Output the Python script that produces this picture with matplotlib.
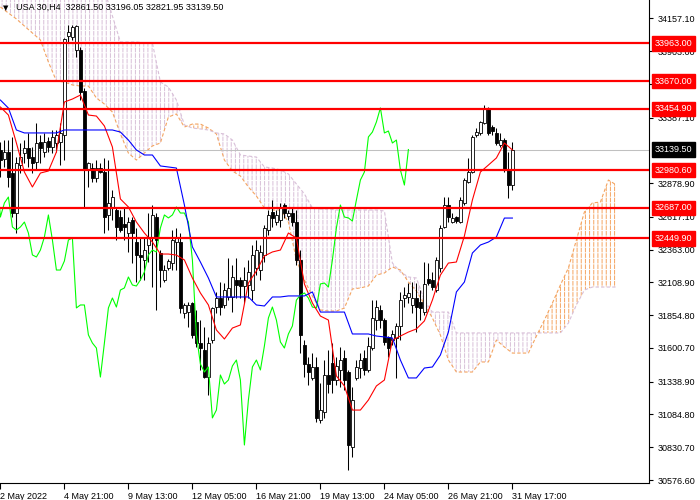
import numpy as np
import matplotlib.pyplot as plt
from matplotlib.transforms import blended_transform_factory

plt.rcParams['font.family'] = ['Liberation Sans', 'DejaVu Sans']
plt.rcParams['hatch.linewidth'] = 0.7

symbol = "USA 30,H4"
last_ohlc = [32861.50, 33196.05, 32821.95, 33139.50]

# H4 candles, one per bar
opens = [33136, 33066, 33120, 32957, 32647, 33019, 33113, 33151, 33081, 33043,
         33198, 33120, 33206, 33159, 33190, 33198, 33252, 34020, 34012, 33911,
         33911, 33593, 32981, 32996, 32918, 32996, 32965, 32632, 32694, 32670,
         32616, 32562, 32492, 32593, 32422, 32322, 32283, 32399, 32461, 32616,
         32337, 32128, 32221, 32259, 32422, 32422, 31872, 31880, 31950, 31802,
         31639, 31585, 31375, 31662, 31918, 31988, 31934, 31996, 31996, 32128,
         32128, 32081, 32089, 32050, 32221, 32205, 32322, 32515, 32655, 32577,
         32593, 32709, 32624, 32647, 32577, 32283, 31624, 31476, 31368, 31453,
         31042, 31104, 31391, 31484, 31352, 31430, 31523, 31414, 30832, 31368,
         31445, 31523, 31430, 31600, 31817, 31895, 31817, 31686, 31662, 31678,
         31771, 31988, 31996, 31934, 31988, 31957, 31880, 32135, 32128, 32050,
         32221, 32539, 32709, 32577, 32616, 32577, 32725, 32888, 32965, 33252,
         33268, 33345, 33462, 33314, 33268, 33175, 33213, 32981, 32861.5]
highs = [33198, 33213, 33213, 33237, 33081, 33190, 33213, 33268, 33159, 33345,
         33252, 33268, 33237, 33291, 33291, 33345, 34004, 34105, 34105, 34105,
         33934, 33617, 33043, 33035, 33058, 33035, 33074, 33058, 32826, 32694,
         32670, 32686, 32616, 32616, 32531, 32461, 32461, 32647, 32709, 32647,
         32360, 32244, 32290, 32515, 32531, 32492, 31950, 31957, 31957, 31895,
         31817, 31763, 31685, 31918, 32035, 32112, 32104, 32298, 32244, 32298,
         32151, 32228, 32283, 32399, 32438, 32399, 32554, 32670, 32748, 32670,
         32724, 32724, 32670, 32686, 32670, 32360, 31662, 31531, 31562, 31531,
         31329, 31507, 31585, 31639, 31531, 31608, 31585, 31430, 31298, 31507,
         31562, 31585, 31686, 31972, 31972, 31934, 31833, 31693, 31740, 31794,
         32035, 32073, 32104, 32112, 32104, 32050, 32267, 32259, 32190, 32306,
         32554, 32771, 32771, 32647, 32624, 32771, 32918, 33074, 33252, 33306,
         33361, 33485, 33469, 33330, 33306, 33268, 33229, 33120, 33196.05]
lows = [32926, 33004, 32849, 32616, 32492, 32957, 33035, 33004, 32957, 32981,
        33035, 33081, 33120, 33113, 33120, 33019, 33058, 33973, 33989, 33857,
        33523, 32686, 32849, 32888, 32888, 32957, 32492, 32515, 32593, 32438,
        32500, 32438, 32345, 32259, 32112, 32128, 32128, 32267, 32073, 31895,
        32073, 32112, 32205, 32205, 32205, 31872, 31833, 31763, 31678, 31608,
        31430, 31368, 31236, 31639, 31872, 31856, 31911, 31972, 31880, 31988,
        31988, 31949, 31988, 31972, 32166, 32128, 32267, 32477, 32539, 32554,
        32539, 32609, 32593, 32546, 32244, 31562, 31375, 31313, 31352, 31027,
        31019, 31058, 31251, 31251, 31313, 31298, 31275, 30654, 30755, 31352,
        31368, 31391, 31414, 31585, 31740, 31755, 31624, 31531, 31624, 31368,
        31662, 31918, 31949, 31872, 31724, 31817, 31856, 32089, 32050, 32035,
        32190, 32531, 32577, 32570, 32570, 32570, 32709, 32880, 32957, 33237,
        33252, 33337, 33252, 33252, 33175, 33159, 32965, 32763, 32821.95]
closes = [33058, 33120, 32926, 32647, 33035, 33081, 33151, 33074, 33035, 33190,
          33151, 33198, 33159, 33237, 33252, 33268, 33997, 34051, 34090, 34097,
          33586, 32981, 33035, 32918, 32996, 32965, 32616, 32725, 32771, 32539,
          32515, 32539, 32577, 32492, 32322, 32306, 32360, 32461, 32632, 32438,
          32205, 32205, 32275, 32438, 32453, 31911, 31934, 31934, 31702, 31639,
          31600, 31375, 31639, 31911, 31988, 31918, 32050, 32066, 32151, 32089,
          32081, 32128, 32190, 32322, 32360, 32345, 32531, 32632, 32609, 32632,
          32694, 32647, 32647, 32577, 32283, 31702, 31476, 31414, 31453, 31058,
          31119, 31391, 31321, 31352, 31461, 31507, 31352, 30848, 31197, 31453,
          31507, 31430, 31616, 31833, 31918, 31817, 31647, 31600, 31709, 31771,
          31972, 32011, 32027, 31988, 31918, 31911, 32097, 32104, 32073, 32283,
          32531, 32709, 32616, 32609, 32585, 32748, 32903, 32965, 33237, 33275,
          33353, 33462, 33268, 33283, 33190, 33213, 32981, 32864, 33139.5]

# Ichimoku lines, read every second bar
tenkan = [33469, 33407, 33190, 32965, 32849, 32957, 32973, 33120, 33508, 33531,
          33562, 33407, 33399, 33322, 33159, 32756, 32694, 32577, 32492, 32422,
          32329, 32329, 32321, 32283, 32143, 32027, 31934, 31740, 31670, 31755,
          31779, 32104, 32197, 32314, 32345, 32360, 32492, 32453, 32097, 31949,
          31848, 31817, 31383, 31306, 31119, 31119, 31197, 31306, 31352, 31662,
          31693, 31724, 31748, 31810, 31972, 32166, 32259, 32267, 32469, 32748,
          32965, 33019, 33074, 33190, 33136]
kijun = [33523, 33461, 33291, 33268, 33268, 33268, 33268, 33268, 33291, 33291,
         33291, 33291, 33291, 33291, 33291, 33275, 33213, 33136, 33097, 33097,
         33012, 33004, 32996, 32709, 32384, 32267, 32143, 31996, 31996, 31996,
         31996, 31996, 31934, 31926, 31996, 31996, 32004, 32004, 32004, 32035,
         31879, 31879, 31879, 31879, 31709, 31709, 31709, 31693, 31686, 31678,
         31507, 31368, 31368, 31445, 31453, 31546, 31724, 32035, 32112, 32337,
         32399, 32422, 32461, 32608, 32608]
span_a = [34245, 34198, 34152, 34097, 34043, 33989, 33818, 33671, 33663, 33640,
          33632, 33632, 33539, 33492, 33430, 33260, 33112, 33058, 33112, 33167,
          33190, 33392, 33415, 33314, 33337, 33337, 33306, 33260, 33058, 32973,
          32934, 32849, 32779, 32686, 32670, 32670, 32577, 32283, 32128, 32003,
          31895, 31887, 31887, 31910, 32058, 32066, 32081, 32166, 32182, 32228,
          32205, 32112, 32042, 31941, 31833, 31701, 31507, 31414, 31414, 31414,
          31492, 31492, 31662, 31608, 31561, 31561, 31561, 31693, 31817, 31949,
          32089, 32221, 32438, 32655, 32725, 32732, 32903, 32864]
span_b = [34609, 34609, 34594, 34578, 34563, 34547, 34532, 34516, 34501, 34485,
          34470, 34454, 34454, 34377, 34175, 33973, 33973, 33973, 33966, 33966,
          33663, 33624, 33523, 33330, 33306, 33299, 33291, 33268, 33260, 33213,
          33097, 33089, 33081, 33004, 32996, 32981, 32950, 32872, 32795, 32686,
          32678, 32678, 32670, 32670, 32670, 32670, 32670, 32670, 32663, 32259,
          32190, 32151, 32143, 31972, 31879, 31879, 31879, 31717, 31717, 31717,
          31717, 31717, 31717, 31717, 31717, 31717, 31717, 31717, 31717, 31717,
          31717, 31794, 31934, 32050, 32073, 32073, 32073, 32073]
chikou_shift = 26

levels = [33963.00, 33670.00, 33454.90, 32980.60, 32687.00, 32449.90]
bid = 33139.50

price_ticks = [34157.10, 33903.00, 33645.20, 33387.10, 32878.90, 32617.10,
               32363.00, 32108.90, 31854.80, 31600.70, 31338.90, 31084.80, 30830.70,
               30576.60]
time_labels = ["2 May 2022", "4 May 21:00", "9 May 13:00", "12 May 05:00",
               "16 May 21:00", "19 May 13:00", "24 May 05:00", "26 May 21:00",
               "31 May 17:00"]
time_bars = [0, 16, 32, 48, 64, 80, 96, 112, 128]

FS = 6.5

fig = plt.figure(figsize=(7, 5), dpi=100)
ax = fig.add_axes([0, 17 / 500, 649 / 700, 483 / 500])

o = np.array(opens); h = np.array(highs); l = np.array(lows); c = np.array(closes)
bars = np.arange(len(c))
line_bars = np.arange(0, len(c), 2)
A = np.array(span_a); B = np.array(span_b)
span_bars = np.arange(0, 2 * len(A), 2)

# kumo, dotted histogram look
ax.fill_between(span_bars, A, B, where=A >= B, interpolate=True, facecolor='none',
                edgecolor='#F4A460', hatch='||||', linewidth=0, zorder=1)
ax.fill_between(span_bars, A, B, where=A < B, interpolate=True, facecolor='none',
                edgecolor='#D8BFD8', hatch='||||', linewidth=0, zorder=1)
ax.fill_between(span_bars, A, B, facecolor='none', edgecolor='white', hatch='---',
                linewidth=0, zorder=1.1)
ax.plot(span_bars, A, color='#F4A460', lw=0.8, ls=(0, (3, 2)), zorder=1.2)
ax.plot(span_bars, B, color='#D8BFD8', lw=0.8, ls=(0, (3, 2)), zorder=1.2)

ax.axhline(bid, color='#C0C0C0', lw=0.75, zorder=1.5)

# candles
up = c >= o
ax.vlines(bars, l, h, color='black', lw=0.75, zorder=2)
ax.bar(bars, np.maximum(np.abs(c - o), 1.5), bottom=np.minimum(o, c), width=0.6,
       color=np.where(up, 'white', 'black'), edgecolor='black', linewidth=0.6, zorder=2.5)

# indicator lines
ax.plot(bars - chikou_shift, c, color='#00FF00', lw=0.8, zorder=3)
ax.plot(line_bars, tenkan, color='red', lw=0.8, zorder=3)
ax.plot(line_bars, kijun, color='blue', lw=0.8, zorder=3)

for lvl in levels:
    ax.axhline(lvl, color='red', lw=1.6, zorder=4)

ax.set_xlim(-0.1, 162.15)
ax.set_ylim(34299 - 7.755 * 483, 34299)

for s in ['left', 'top']:
    ax.spines[s].set_visible(False)
for s in ['right', 'bottom']:
    ax.spines[s].set_linewidth(0.8)

ax.yaxis.tick_right()
ax.set_yticks(price_ticks)
ax.set_yticklabels([f"{t:.2f}" for t in price_ticks])
ax.tick_params(axis='y', direction='out', length=3, width=0.8, pad=3, labelsize=FS)
ax.set_xticks(time_bars)
ax.set_xticklabels(time_labels, ha='left')
ax.tick_params(axis='x', direction='out', length=4, width=0.8, pad=2.5, labelsize=FS)

trans = blended_transform_factory(ax.transAxes, ax.transData)
for lvl in levels:
    ax.annotate(f"{lvl:.2f}", xy=(1.0, lvl), xycoords=trans, xytext=(6, 0),
                textcoords='offset pixels', ha='left', va='center', color='white',
                fontsize=FS, annotation_clip=False, zorder=6,
                bbox=dict(boxstyle='square,pad=0.3', fc='red', ec='red'))
ax.annotate(f"{bid:.2f}", xy=(1.0, bid), xycoords=trans, xytext=(6, 0),
            textcoords='offset pixels', ha='left', va='center', color='white',
            fontsize=FS, annotation_clip=False, zorder=6,
            bbox=dict(boxstyle='square,pad=0.3', fc='black', ec='black'))

fig.text(3 / 700, 1 - 8 / 500, "\u25BC", fontsize=5, va='center', ha='left',
         family='DejaVu Sans')
fig.text(16 / 700, 1 - 7 / 500,
         f"{symbol}  " + " ".join(f"{v:.2f}" for v in last_ohlc),
         fontsize=FS, va='center', ha='left')

fig.savefig('out.png', dpi=100)
